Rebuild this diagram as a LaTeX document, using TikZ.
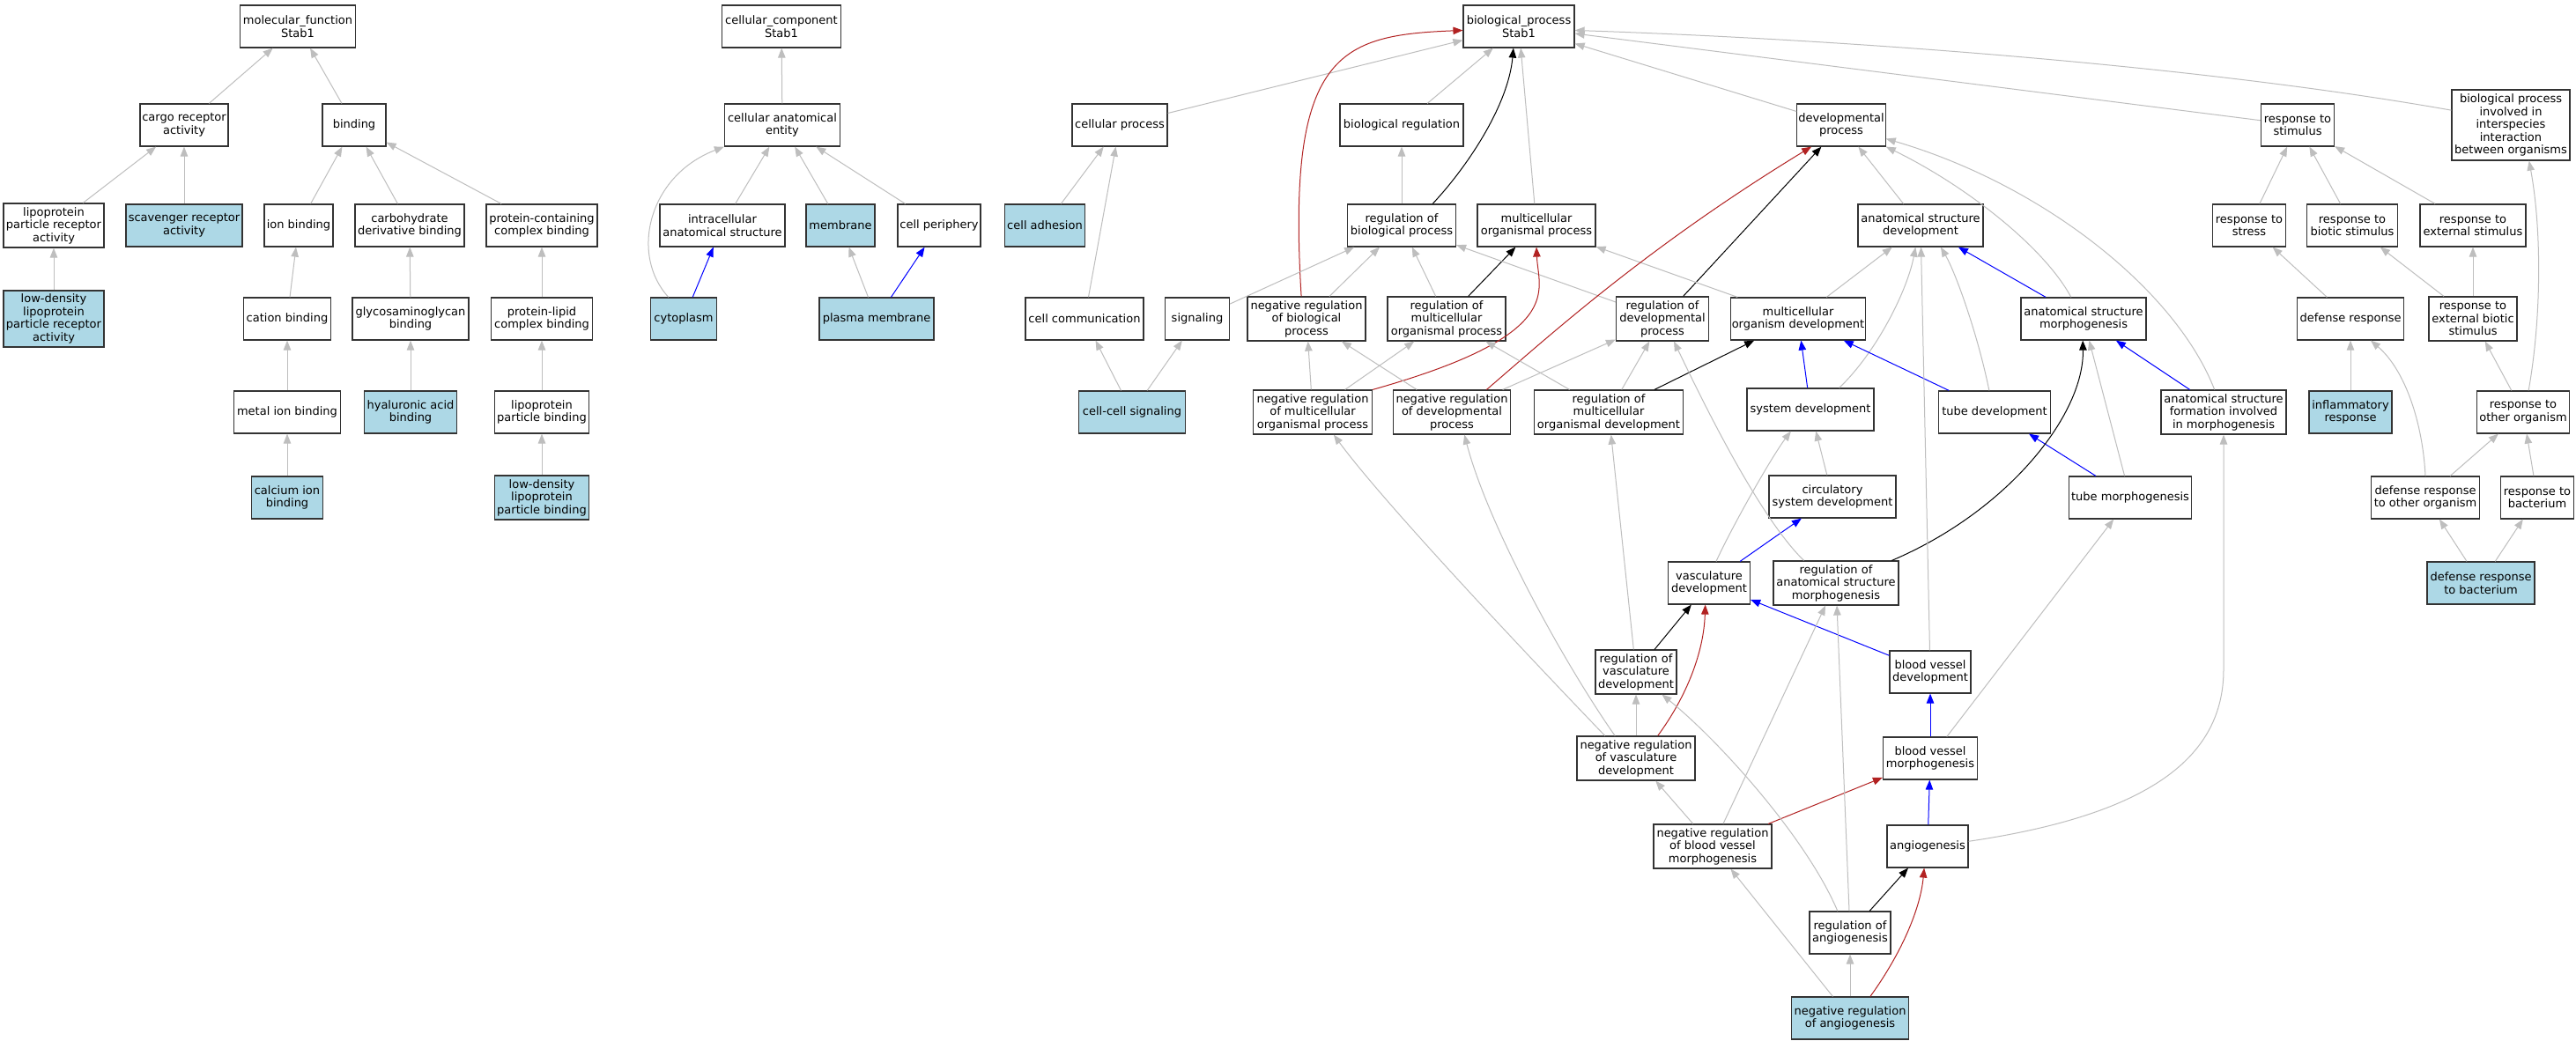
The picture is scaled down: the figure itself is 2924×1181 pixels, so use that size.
\documentclass[tikz,border=0pt]{standalone}
\usepackage{fontspec}
\setmainfont{DejaVu Sans}
\usetikzlibrary{arrows.meta}
\definecolor{eg}{HTML}{BEBEBE}
\definecolor{eb}{HTML}{0000FF}
\definecolor{er}{HTML}{B22222}
\definecolor{lb}{HTML}{ADD8E6}
\definecolor{nb}{HTML}{333333}
\newcommand\gonodefont{\fontsize{13}{14.5}\selectfont}
\begin{document}
\begin{tikzpicture}[x=1pt,y=-1pt,
  box/.style={draw=nb, line width=1.2pt, fill=white, align=center, inner xsep=1.5pt, inner ysep=1pt, minimum height=48pt, font=\gonodefont},
  hl/.style={box, fill=lb},
  e/.style={-{Triangle[length=11pt,width=8.5pt]}, line width=1pt},
  ge/.style={e, draw=eg},
  be/.style={e, draw=eb},
  ke/.style={e, draw=black},
  re/.style={e, draw=er}]
\useasboundingbox[fill=white] (0,0) rectangle (2924,1181);
% ---------- molecular function ----------
\node[box, minimum width=131pt] (mf) at (338,30) {molecular\_function\\Stab1};
\node[box, minimum width=100pt] (cra) at (209,142) {cargo receptor\\activity};
\node[box, minimum width=72pt] (binding) at (402,142) {binding};
\node[box, minimum width=114pt, minimum height=50pt] (lpra) at (61,256) {lipoprotein\\particle receptor\\activity};
\node[hl, minimum width=132pt] (sra) at (209,256) {scavenger receptor\\activity};
\node[box, minimum width=78pt] (ionb) at (339,256) {ion binding};
\node[box, minimum width=124pt] (cdb) at (465,256) {carbohydrate\\derivative binding};
\node[box, minimum width=126pt] (pccb) at (615,256) {protein-containing\\complex binding};
\node[hl, minimum width=114pt, minimum height=64pt] (ldlra) at (61,362) {low-density\\lipoprotein\\particle receptor\\activity};
\node[box, minimum width=99pt] (cationb) at (326,362) {cation binding};
\node[box, minimum width=132pt] (gagb) at (466,362) {glycosaminoglycan\\binding};
\node[box, minimum width=115pt] (plcb) at (615,362) {protein-lipid\\complex binding};
\node[box, minimum width=121pt] (metalb) at (326,468) {metal ion binding};
\node[hl, minimum width=105pt] (hab) at (466,468) {hyaluronic acid\\binding};
\node[box, minimum width=107pt] (lpb) at (615,468) {lipoprotein\\particle binding};
\node[hl, minimum width=81pt] (cib) at (326,565) {calcium ion\\binding};
\node[hl, minimum width=107pt, minimum height=50pt] (ldlpb) at (615,565) {low-density\\lipoprotein\\particle binding};
% ---------- cellular component ----------
\node[box, minimum width=135pt] (cc) at (887,30) {cellular\_component\\Stab1};
\node[box, minimum width=131pt] (cae) at (888,142) {cellular anatomical\\entity};
\node[box, minimum width=142pt] (ias) at (820,256) {intracellular\\anatomical structure};
\node[hl, minimum width=78pt] (mem) at (954,256) {membrane};
\node[box, minimum width=94pt] (cper) at (1066,256) {cell periphery};
\node[hl, minimum width=75pt] (cyto) at (776,362) {cytoplasm};
\node[hl, minimum width=130pt] (pm) at (995,362) {plasma membrane};
% ---------- biological process ----------
\node[box, minimum width=126pt] (bp) at (1724,30) {biological\_process\\Stab1};
\node[box, minimum width=108pt] (cp) at (1271,142) {cellular process};
\node[box, minimum width=140pt] (breg) at (1591,142) {biological regulation};
\node[box, minimum width=100pt] (dp) at (2090,142) {developmental\\process};
\node[box, minimum width=83pt] (rstim) at (2608,142) {response to\\stimulus};
\node[box, minimum width=134pt, minimum height=80pt] (inter) at (2850,142) {biological process\\involved in\\interspecies\\interaction\\between organisms};
\node[hl, minimum width=91pt] (cadh) at (1186,256) {cell adhesion};
\node[box, minimum width=123pt] (rbp) at (1591,256) {regulation of\\biological process};
\node[box, minimum width=134pt] (mop) at (1744,256) {multicellular\\organismal process};
\node[box, minimum width=142pt] (asd) at (2180,256) {anatomical structure\\development};
\node[box, minimum width=83pt] (rstress) at (2553,256) {response to\\stress};
\node[box, minimum width=103pt] (rbio) at (2670,256) {response to\\biotic stimulus};
\node[box, minimum width=120pt] (rext) at (2807,256) {response to\\external stimulus};
\node[box, minimum width=134pt] (ccomm) at (1231,362) {cell communication};
\node[box, minimum width=73pt] (sig) at (1359,362) {signaling};
\node[box, minimum width=134pt, minimum height=50pt] (nrbp) at (1483,362) {negative regulation\\of biological\\process};
\node[box, minimum width=134pt, minimum height=50pt] (rmop) at (1642,362) {regulation of\\multicellular\\organismal process};
\node[box, minimum width=105pt, minimum height=50pt] (rdp) at (1887,362) {regulation of\\developmental\\process};
\node[box, minimum width=153pt] (mod) at (2041,362) {multicellular\\organism development};
\node[box, minimum width=142pt] (asm) at (2365,362) {anatomical structure\\morphogenesis};
\node[box, minimum width=121pt] (defr) at (2668,362) {defense response};
\node[box, minimum width=100pt, minimum height=50pt] (rextbio) at (2807,362) {response to\\external biotic\\stimulus};
\node[hl, minimum width=121pt] (ccs) at (1285,468) {cell-cell signaling};
\node[box, minimum width=135pt, minimum height=50pt] (nrmop) at (1490,468) {negative regulation\\of multicellular\\organismal process};
\node[box, minimum width=133pt, minimum height=50pt] (nrdp) at (1648,468) {negative regulation\\of developmental\\process};
\node[box, minimum width=169pt, minimum height=50pt] (rmod) at (1826,468) {regulation of\\multicellular\\organismal development};
\node[box, minimum width=144pt] (sysdev) at (2055,465) {system development};
\node[box, minimum width=127pt] (tubedev) at (2264,468) {tube development};
\node[box, minimum width=142pt, minimum height=50pt] (asfim) at (2524,468) {anatomical structure\\formation involved\\in morphogenesis};
\node[hl, minimum width=94pt] (inflam) at (2668,468) {inflammatory\\response};
\node[box, minimum width=105pt] (rother) at (2864,468) {response to\\other organism};
\node[box, minimum width=144pt] (csd) at (2080,564) {circulatory\\system development};
\node[box, minimum width=139pt] (tubem) at (2418,565) {tube morphogenesis};
\node[box, minimum width=123pt] (drtoo) at (2753,565) {defense response\\to other organism};
\node[box, minimum width=83pt] (rbact) at (2880,565) {response to\\bacterium};
\node[box, minimum width=93pt] (vd) at (1940,662) {vasculature\\development};
\node[box, minimum width=142pt, minimum height=50pt] (rasm) at (2084,662) {regulation of\\anatomical structure\\morphogenesis};
\node[hl, minimum width=122pt] (drtb) at (2816,662) {defense response\\to bacterium};
\node[box, minimum width=92pt, minimum height=50pt] (rvd) at (1857,763) {regulation of\\vasculature\\development};
\node[box, minimum width=92pt] (bvd) at (2191,763) {blood vessel\\development};
\node[box, minimum width=134pt, minimum height=50pt] (nrvd) at (1857,861) {negative regulation\\of vasculature\\development};
\node[box, minimum width=107pt] (bvm) at (2191,861) {blood vessel\\morphogenesis};
\node[box, minimum width=134pt, minimum height=50pt] (nrbvm) at (1944,961) {negative regulation\\of blood vessel\\morphogenesis};
\node[box, minimum width=92pt] (angio) at (2188,961) {angiogenesis};
\node[box, minimum width=92pt] (ra) at (2100,1059) {regulation of\\angiogenesis};
\node[hl, minimum width=133pt] (nra) at (2100,1156) {negative regulation\\of angiogenesis};
\coordinate (abend) at (2524,760);
% ---------- edges: molecular function ----------
\draw[ge] (cra) -- (mf);
\draw[ge] (binding) -- (mf);
\draw[ge] (lpra) -- (cra);
\draw[ge] (sra) -- (cra);
\draw[ge] (ionb) -- (binding);
\draw[ge] (cdb) -- (binding);
\draw[ge] (pccb) -- (binding);
\draw[ge] (ldlra) -- (lpra);
\draw[ge] (cationb) -- (ionb);
\draw[ge] (gagb) -- (cdb);
\draw[ge] (plcb) -- (pccb);
\draw[ge] (metalb) -- (cationb);
\draw[ge] (hab) -- (gagb);
\draw[ge] (lpb) -- (plcb);
\draw[ge] (cib) -- (metalb);
\draw[ge] (ldlpb) -- (lpb);
% ---------- edges: cellular component ----------
\draw[ge] (cae) -- (cc);
\draw[ge] (ias) -- (cae);
\draw[ge] (mem) -- (cae);
\draw[ge] (cper) -- (cae);
\draw[ge] (cyto.125) .. controls (715,290) and (735,200) .. (cae.south west);
\draw[be] (cyto) -- (ias);
\draw[ge] (pm) -- (mem);
\draw[be] (pm) -- (cper);
% ---------- edges: biological process ----------
\draw[ge] (cp) -- (bp);
\draw[ge] (breg) -- (bp);
\draw[ge] (mop) -- (bp);
\draw[ge] (dp) -- (bp);
\draw[ge] (rstim) -- (bp);
\draw[ge] (inter.166) .. controls (2500,75) and (2100,45) .. (bp.-4);
\draw[ke] (rbp.35) .. controls (1665,190) and (1712,120) .. (bp.256);
\draw[re] (nrbp.103) .. controls (1460,60) and (1520,40) .. (bp.184);
\draw[ge] (cadh) -- (cp);
\draw[ge] (ccomm) -- (cp);
\draw[ge] (ccs) -- (ccomm);
\draw[ge] (ccs) -- (sig);
\draw[ge] (sig) -- (rbp);
\draw[ge] (rbp) -- (breg);
\draw[ge] (nrbp) -- (rbp);
\draw[ge] (rmop) -- (rbp);
\draw[ke] (rmop) -- (mop);
\draw[ge] (rdp) -- (rbp);
\draw[ke] (rdp) -- (dp);
\draw[ge] (mod) -- (mop);
\draw[ge] (mod) -- (asd);
\draw[ge] (asd) -- (dp);
\draw[ge] (asm.120) .. controls (2320,280) and (2230,210) .. (dp.south east);
\draw[ge] (asfim.112) .. controls (2470,330) and (2320,210) .. (dp.-17);
\draw[be] (asm) -- (asd);
\draw[ge] (nrmop) -- (nrbp);
\draw[ge] (nrmop) -- (rmop);
\draw[re] (nrmop.north east) .. controls (1780,380) and (1746,330) .. (mop.south);
\draw[ge] (nrdp) -- (nrbp);
\draw[ge] (nrdp) -- (rdp);
\draw[re] (nrdp.33) .. controls (1760,380) and (1870,280) .. (dp.216);
\draw[ge] (rmod) -- (rmop);
\draw[ge] (rmod) -- (rdp);
\draw[ke] (rmod) -- (mod);
\draw[be] (sysdev) -- (mod);
\draw[ge] (sysdev.37) .. controls (2130,400) and (2165,330) .. (asd.257);
\draw[be] (tubedev) -- (mod);
\draw[ge] (tubedev.104) .. controls (2245,380) and (2220,310) .. (asd.-47);
\draw[be] (asfim) -- (asm);
\draw[ge] (csd) -- (sysdev);
\draw[be] (tubem) -- (tubedev);
\draw[ge] (tubem) -- (asm);
\draw[be] (vd) -- (csd);
\draw[ge] (vd.72) .. controls (1965,600) and (2010,520) .. (sysdev.228);
\draw[ke] (rasm.22) .. controls (2280,580) and (2366,470) .. (asm.268);
\draw[ge] (rasm.145) .. controls (1995,585) and (1930,450) .. (rdp.-63);
\draw[ke] (rvd) -- (vd);
\draw[ge] (rvd) -- (rmod);
\draw[ge] (bvd) -- (asd);
\draw[be] (bvd) -- (vd);
\draw[ge] (nrvd) -- (rvd);
\draw[re] (nrvd.46) .. controls (1915,790) and (1934,740) .. (vd.260);
\draw[ge] (nrvd.144) .. controls (1730,740) and (1570,570) .. (nrmop.-47);
\draw[ge] (nrvd.133) .. controls (1780,760) and (1690,600) .. (nrdp.-61);
\draw[be] (bvm) -- (bvd);
\draw[ge] (bvm) -- (tubem);
\draw[be] (angio) -- (bvm);
\draw[ge] (angio.7) .. controls (2440,925) and (2524,860) .. (abend) -- (asfim.south);
\draw[ge] (nrbvm) -- (nrvd);
\draw[ge] (nrbvm) -- (rasm);
\draw[re] (nrbvm) -- (bvm);
\draw[ke] (ra) -- (angio);
\draw[ge] (ra.120) .. controls (2050,950) and (1950,840) .. (rvd.-41);
\draw[ge] (ra) -- (rasm);
\draw[ge] (nra) -- (ra);
\draw[ge] (nra) -- (nrbvm);
\draw[re] (nra.47) .. controls (2160,1080) and (2180,1030) .. (angio.261);
% ---------- edges: responses ----------
\draw[ge] (rstress) -- (rstim);
\draw[ge] (rbio) -- (rstim);
\draw[ge] (rext) -- (rstim);
\draw[ge] (defr) -- (rstress);
\draw[ge] (rextbio) -- (rbio);
\draw[ge] (rextbio) -- (rext);
\draw[ge] (inflam) -- (defr);
\draw[ge] (rother) -- (rextbio);
\draw[ge] (rother.76) .. controls (2885,360) and (2885,260) .. (inter.-63);
\draw[ge] (drtoo.north) .. controls (2750,480) and (2730,420) .. (defr.-47);
\draw[ge] (drtoo) -- (rother);
\draw[ge] (rbact) -- (rother);
\draw[ge] (drtb) -- (drtoo);
\draw[ge] (drtb) -- (rbact);
\end{tikzpicture}
\end{document}
